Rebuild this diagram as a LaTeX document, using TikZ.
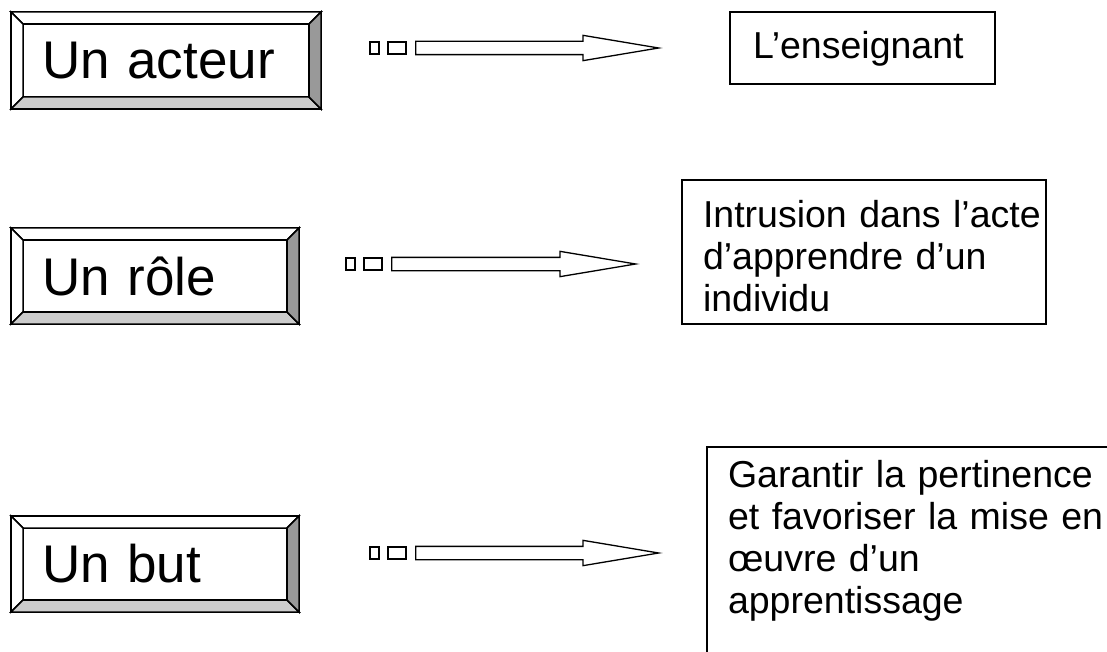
\documentclass[tikz,border=0pt]{standalone}
\usepackage{fontspec}
\setmainfont{Liberation Sans}
\usetikzlibrary{shapes.arrows}
\definecolor{bevellight}{RGB}{204,204,204}
\definecolor{beveldark}{RGB}{153,153,153}

\begin{document}
\begin{tikzpicture}
        [x=1pt, y=-1pt,
        button/.style = {draw=black, line width=1.5pt, fill=white, outer sep=0pt, inner xsep=19pt, inner ysep=0pt, align=left, font=\fontsize{53}{60}\selectfont},
        buttonframe/.style = {draw=black, line width=1.5pt, outer sep=0pt, inner sep=0pt},
        textbox/.style = {draw=black, line width=1.5pt, anchor=north west, outer sep=0pt, inner xsep=21pt, inner ysep=0pt, align=left, font=\fontsize{37.5}{42}\selectfont},
        dotbox/.style = {draw=black, line width=1.3pt, inner sep=0pt, minimum height=12pt},
        blockarrow/.style = {single arrow, draw=black, line width=1.3pt, inner sep=6pt, single arrow head extend=6pt, single arrow head indent=0pt, single arrow tip angle=19, anchor=tail}]
        \clip (0,0) rectangle (1107,652);

        % left buttons
        \node[buttonframe, minimum width=310, minimum height=97] (acteur-out) at (166,60.5) {};
        \node[button, text width=248pt, minimum height=73] (acteur) at (166,60.5) {Un acteur};
        \node[buttonframe, minimum width=288, minimum height=96] (role-out) at (155,276) {};
        \node[button, text width=226pt, minimum height=72] (role) at (155,276) {Un rôle};
        \node[buttonframe, minimum width=288, minimum height=96] (but-out) at (155,564) {};
        \node[button, text width=226pt, minimum height=72] (but) at (155,564) {Un but};

        \foreach \b in {acteur,role,but}{
            \filldraw[fill=white, line width=1.5pt] (\b-out.north west) -- (\b-out.north east) -- (\b.north east) -- (\b.north west) -- cycle;
            \filldraw[fill=white, line width=1.5pt] (\b-out.north west) -- (\b.north west) -- (\b.south west) -- (\b-out.south west) -- cycle;
            \filldraw[fill=bevellight, line width=1.5pt] (\b-out.south west) -- (\b.south west) -- (\b.south east) -- (\b-out.south east) -- cycle;
            \filldraw[fill=beveldark, line width=1.5pt] (\b-out.north east) -- (\b-out.south east) -- (\b.south east) -- (\b.north east) -- cycle;
        }

        % right boxes
        \node[textbox, inner xsep=23pt, text width=219pt, text height=47pt, text depth=25pt] (enseignant) at (730,12) {L’enseignant};
        \node[textbox, text width=322pt, text height=48pt, text depth=96pt] (intrusion) at (682,180) {\mbox{Intrusion dans l’acte}\\d’apprendre d’un\\individu};
        \node[textbox, text width=400pt, text height=40pt, text depth=250pt] (garantir) at (707,447) {Garantir la pertinence\\et favoriser la mise en\\œuvre d’un\\apprentissage};

        % arrows
        \node[dotbox, minimum width=9] (d1a) at (374.5,48) {};
        \node[dotbox, minimum width=18] (d1b) at (397,48) {};
        \node[blockarrow, minimum height=243] (a1) at (415,48) {};

        \node[dotbox, minimum width=9] (d2a) at (350.5,264) {};
        \node[dotbox, minimum width=18] (d2b) at (373,264) {};
        \node[blockarrow, minimum height=244] (a2) at (391,264) {};

        \node[dotbox, minimum width=9] (d3a) at (374.5,553) {};
        \node[dotbox, minimum width=18] (d3b) at (397,553) {};
        \node[blockarrow, minimum height=243] (a3) at (415,553) {};

    \end{tikzpicture}
\end{document}
